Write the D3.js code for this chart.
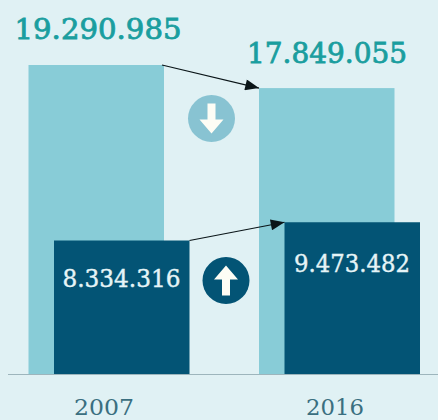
<!DOCTYPE html>
<html>
<head>
<meta charset="utf-8">
<script src="https://cdn.jsdelivr.net/npm/d3@7/dist/d3.min.js"></script>
<style>
html,body{margin:0;padding:0;background:#e0f1f4;}
svg{display:block;}
</style>
</head>
<body>
<svg id="chart" width="438" height="420"></svg>
<script>
const years = ["2007", "2016"];
const totalValues = [19290985, 17849055];
const lowerValues = [8334316, 9473482];
const totalLabels = ["19.290.985", "17.849.055"];
const lowerLabels = ["8.334.316", "9.473.482"];

const svg = d3.select("#chart");
const baseY = 374;
const serif = "'DejaVu Serif', serif";

const y = d3.scaleLinear().domain([0, 19290985]).range([baseY, 65]);
const x = d3.scalePoint().domain(years).range([28.5, 259]);
const barW = 135.5;
const lowerShift = 25.5;

const defs = svg.append("defs");
defs.append("marker").attr("id", "head")
  .attr("viewBox", "0 0 10 8").attr("refX", 10).attr("refY", 4)
  .attr("markerUnits", "userSpaceOnUse")
  .attr("markerWidth", 15).attr("markerHeight", 11).attr("orient", "auto")
  .append("path").attr("d", "M0,0L10,4L0,8Z").attr("fill", "#0a1518");

// Overall totals, behind
svg.selectAll(".total").data(years).join("rect").attr("class", "total")
  .attr("x", d => x(d)).attr("width", barW)
  .attr("y", (d, i) => y(totalValues[i]))
  .attr("height", (d, i) => baseY - y(totalValues[i]))
  .attr("fill", "#88ccd7");

// Lower series, in front
svg.selectAll(".lower").data(years).join("rect").attr("class", "lower")
  .attr("x", d => x(d) + lowerShift).attr("width", barW)
  .attr("y", (d, i) => y(lowerValues[i]))
  .attr("height", (d, i) => baseY - y(lowerValues[i]))
  .attr("fill", "#035475");

// Baseline
svg.append("line").attr("x1", 8).attr("x2", 438).attr("y1", baseY + .5).attr("y2", baseY + .5)
  .attr("stroke", "#9db5bc").attr("stroke-width", 1);

// Change arrows from one bar's corner to the next
const link = (x1, y1, x2, y2) => svg.append("line")
  .attr("x1", x1).attr("y1", y1).attr("x2", x2).attr("y2", y2)
  .attr("stroke", "#0a1518").attr("stroke-width", 1.2).attr("marker-end", "url(#head)");
link(x("2007") + barW - 2, y(totalValues[0]), x("2016"), y(totalValues[1]));
link(x("2007") + lowerShift + barW, y(lowerValues[0]), x("2016") + lowerShift, y(lowerValues[1]));

// Direction badges
function badge(cx, cy, color, dir) {
  const g = svg.append("g").attr("transform", `translate(${cx},${cy}) scale(1,${dir})`);
  g.append("circle").attr("r", 23.5).attr("fill", color);
  g.append("path")
    .attr("d", "M-4,-15H4V1H12L0,15L-12,1H-4Z")
    .attr("fill", "#fdfdf5");
}
badge(211.5, 118.5, "#88c3d2", 1);
badge(226, 280.5, "#035475", -1);

// Value labels
const label = (t, xx, yy, fill, size, heavy) => svg.append("text")
  .attr("x", xx).attr("y", yy).attr("text-anchor", "middle")
  .attr("font-family", serif).attr("font-size", size)
  .attr("fill", fill).attr("stroke", fill).attr("stroke-width", heavy).text(t);

label(totalLabels[0], 98, 39, "#1a9e9f", 27, 0.8).attr("textLength", 167).attr("lengthAdjust", "spacingAndGlyphs");
label(totalLabels[1], 327, 63, "#1a9e9f", 27, 0.8).attr("textLength", 160).attr("lengthAdjust", "spacingAndGlyphs");
label(lowerLabels[0], 121.5, 287, "#e6f4f7", 24, 0.4).attr("textLength", 118).attr("lengthAdjust", "spacingAndGlyphs");
label(lowerLabels[1], 352, 272, "#e6f4f7", 24, 0.4).attr("textLength", 116).attr("lengthAdjust", "spacingAndGlyphs");

// Year labels
label(years[0], 104, 414.5, "#3a6f80", 23, 0).attr("textLength", 60).attr("lengthAdjust", "spacingAndGlyphs");
label(years[1], 335, 414.5, "#3a6f80", 23, 0).attr("textLength", 58).attr("lengthAdjust", "spacingAndGlyphs");
</script>
</body>
</html>
